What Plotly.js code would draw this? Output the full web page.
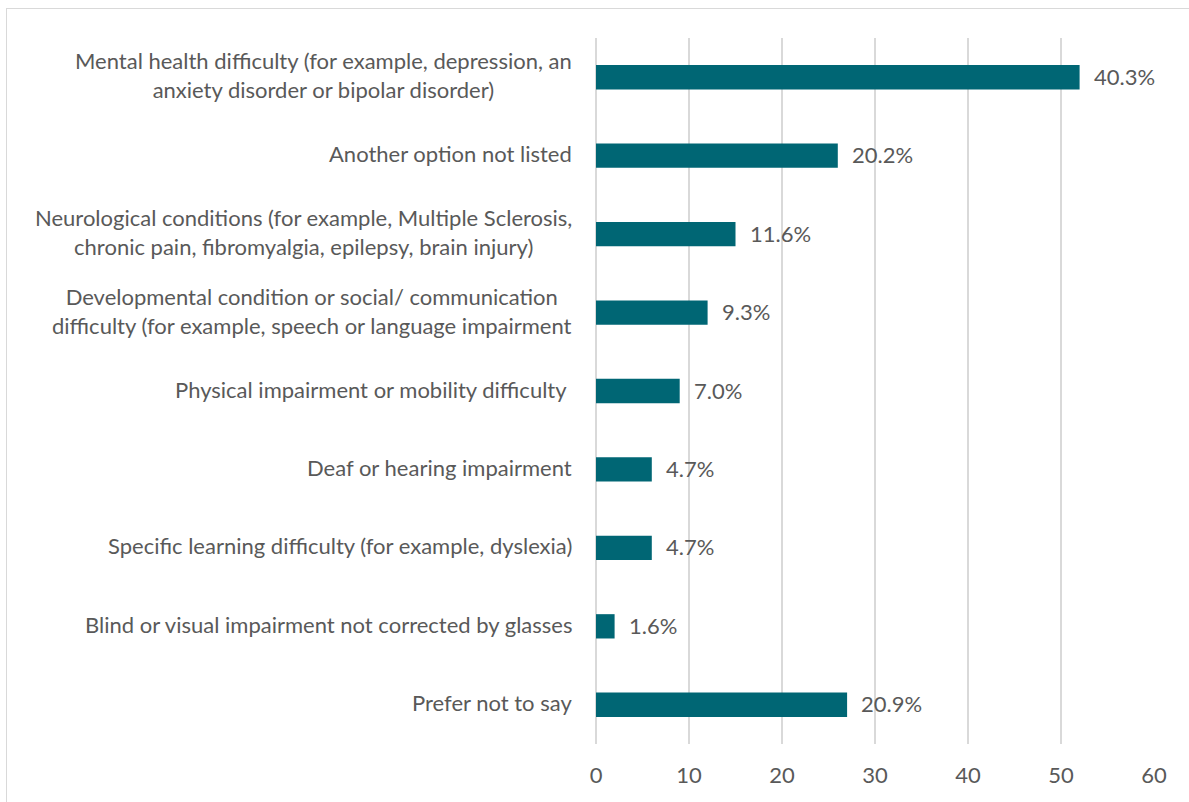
<!DOCTYPE html>
<html>
<head>
<meta charset="utf-8">
<script src="https://cdn.plot.ly/plotly-3.0.1.min.js"></script>
<style>
  html, body { margin: 0; padding: 0; background: #fff; }
  #wrap { position: relative; width: 1189px; height: 802px; overflow: hidden; }
  #chart { position: absolute; left: 0; top: 0; width: 1189px; height: 802px; }
  #frame { position: absolute; left: 6px; top: 8px; width: 1200px; height: 820px; border: 1px solid #d9d9d9; pointer-events: none; }
</style>
</head>
<body>
<div id="wrap">
  <div id="chart"></div>
  <div id="frame"></div>
</div>
<script>
const categories = [
  "Mental health difficulty (for example, depression, an<br>anxiety disorder or bipolar disorder)",
  "Another option not listed",
  "Neurological conditions (for example, Multiple Sclerosis,<br>chronic pain, fibromyalgia, epilepsy, brain injury)",
  "Developmental condition or social/ communication<br>difficulty (for example, speech or language impairment",
  "Physical impairment or mobility difficulty ",
  "Deaf or hearing impairment",
  "Specific learning difficulty (for example, dyslexia)",
  "Blind or visual impairment not corrected by glasses",
  "Prefer not to say"
];
const counts = [52, 26, 15, 12, 9, 6, 6, 2, 27];
const percentLabels = ["40.3%", "20.2%", "11.6%", "9.3%", "7.0%", "4.7%", "4.7%", "1.6%", "20.9%"];
const xTicks = [0, 10, 20, 30, 40, 50, 60];

const FONT = "Lato, 'Open Sans', sans-serif";
const TXT = "#595959";
const FS = 22;

const trace = {
  type: "bar",
  orientation: "h",
  y: categories,
  x: counts,
  marker: { color: "#006674" },
  hoverinfo: "none"
};

const annotations = [];
categories.forEach((c, i) => {
  annotations.push({
    xref: "paper", yref: "y", x: 0, y: c,
    text: c, showarrow: false,
    xanchor: "right", yanchor: "middle", align: "center",
    xshift: -22, yshift: 2,
    font: { family: FONT, size: FS, color: TXT }
  });
  annotations.push({
    xref: "x", yref: "y", x: counts[i], y: c,
    text: percentLabels[i], showarrow: false,
    xanchor: "left", yanchor: "middle",
    xshift: 12, yshift: 1,
    font: { family: FONT, size: FS, color: TXT }
  });
});

const layout = {
  width: 1189, height: 802,
  margin: { l: 596, r: 35, t: 38, b: 58 },
  paper_bgcolor: "#fff", plot_bgcolor: "#fff",
  bargap: 0.69,
  showlegend: false,
  font: { family: FONT, size: FS, color: TXT },
  xaxis: {
    range: [0, 60],
    tickvals: xTicks,
    ticktext: xTicks.map(String),
    showgrid: true, gridcolor: "#d9d9d9", gridwidth: 2,
    zeroline: true, zerolinecolor: "#d9d9d9", zerolinewidth: 2,
    showline: false, ticks: "",
    ticklabelstandoff: 16,
    tickfont: { family: FONT, size: FS, color: TXT },
    fixedrange: true
  },
  yaxis: {
    categoryorder: "array",
    categoryarray: categories.slice().reverse(),
    autorange: true,
    showticklabels: false,
    showgrid: false, zeroline: false, showline: false, ticks: "",
    fixedrange: true
  },
  annotations: annotations
};

Plotly.newPlot("chart", [trace], layout, { displayModeBar: false, staticPlot: true });
</script>
</body>
</html>
